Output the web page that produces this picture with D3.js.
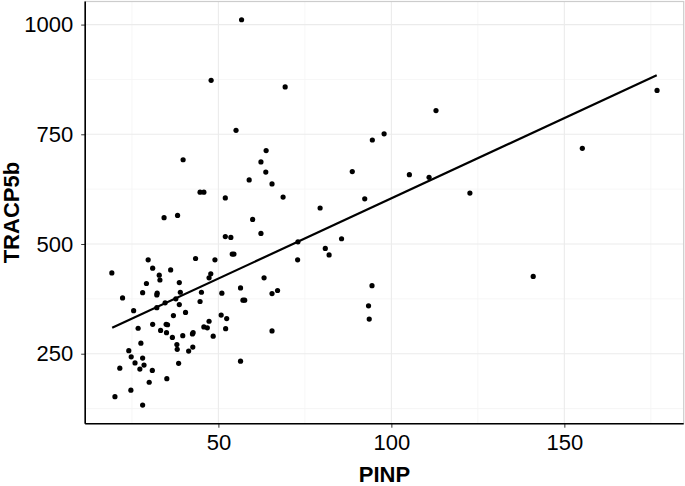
<!DOCTYPE html>
<html>
<head>
<meta charset="utf-8">
<script src="https://cdnjs.cloudflare.com/ajax/libs/d3/7.8.5/d3.min.js"></script>
<style>
    body { margin: 0; background: #fff; }
    svg { display: block; font-family: "Liberation Sans", Arial, sans-serif; }
</style>
</head>
<body>
<div id="chart"></div>
<script>
// PINP values (x)
var pinp = [44.7, 45.8, 52.0, 34.3, 38.2, 52.0, 53.6, 54.0, 54.5,
    19.2, 29.7, 31.0, 32.9, 33.1, 36.2, 29.2, 28.1, 32.3, 32.2, 22.3, 38.7, 39.0, 37.7, 34.6, 32.2, 25.5, 38.7,
    43.4, 49.0, 47.8, 47.3, 45.1, 51.0, 44.7,
    37.0, 40.5, 26.8, 31.0, 33.3, 34.9, 35.3, 35.0, 36.7, 39.7, 42.5, 42.7, 45.8, 46.8, 47.3, 48.5, 50.8, 52.4, 52.1,
    38.0, 38.1, 41.4, 42.6, 38.5, 35.1, 27.6, 24.1, 24.8, 25.9, 28.1, 28.5, 27.3, 30.9, 21.5, 30.0, 24.7, 20.1, 28.1,
    47.9, 55.1, 39.8, 56.7, 69.3, 63.8, 62.3, 63.7, 65.5, 58.9, 68.7, 59.9, 62.3, 73.0, 80.9, 85.6, 79.4, 88.7,
    92.3, 94.5, 97.9, 105.2, 110.9, 112.9,
    82.0, 72.9, 56.4, 57.1, 57.6, 63.2, 65.5, 67.1, 65.5, 56.4, 94.4, 93.4, 93.6,
    122.7, 155.2, 176.8, 141.0];

// TRACP5b values (y)
var tracp = [618, 618, 605, 560, 565, 517, 515, 477, 477,
    434, 464, 445, 429, 418, 441, 410, 389, 388, 384, 377, 412, 390, 375, 366, 355, 348, 362,
    467, 464, 432, 423, 390, 388, 369,
    337, 344, 308, 317, 303, 317, 316, 298, 287, 291, 295, 298, 311, 309, 324, 290, 338, 330, 307,
    271, 260, 256, 265, 228, 193, 274, 257, 243, 229, 240, 224, 215, 212, 217, 185, 167, 152, 133,
    873, 759, 692, 1011, 858, 713, 687, 664, 637, 646, 607, 556, 524, 505, 490, 512, 582, 665,
    603, 737, 751, 658, 652, 804,
    475, 464, 400, 372, 372, 423, 387, 394, 302, 233, 405, 359, 329,
    616, 718, 850, 426];

// fitted line end points
var fitX = [19.3, 176.7];
var fitY = [309, 884.5];

var xTicks = [50, 100, 150];
var xMinor = [25, 75, 125, 175];
var yTicks = [250, 500, 750, 1000];
var yMinor = [125, 375, 625, 875];

var width = 685;
var height = 486;
var margin = {
    top: 1.5,
    right: 1.3,
    bottom: 62.3,
    left: 85.2
};
var w = width - margin.left - margin.right;
var h = height - margin.top - margin.bottom;

var svg = d3.select('#chart').append('svg').attr('width', width).attr('height', height)
    .append('g').attr('transform', 'translate(' + margin.left + ',' + margin.top + ')');

var x = d3.scaleLinear().domain([11.5, 184.5]).range([0, w]);
var y = d3.scaleLinear().domain([90.5, 1052.6]).range([h, 0]);

// grid
svg.selectAll('.xminor').data(xMinor).enter().append('line')
    .attr('x1', function(d) { return x(d); }).attr('x2', function(d) { return x(d); })
    .attr('y1', 0).attr('y2', h).attr('stroke', '#f4f4f4').attr('stroke-width', 0.8);
svg.selectAll('.yminor').data(yMinor).enter().append('line')
    .attr('y1', function(d) { return y(d); }).attr('y2', function(d) { return y(d); })
    .attr('x1', 0).attr('x2', w).attr('stroke', '#f4f4f4').attr('stroke-width', 0.8);
svg.selectAll('.xmajor').data(xTicks).enter().append('line')
    .attr('x1', function(d) { return x(d); }).attr('x2', function(d) { return x(d); })
    .attr('y1', 0).attr('y2', h).attr('stroke', '#ebebeb').attr('stroke-width', 1.1);
svg.selectAll('.ymajor').data(yTicks).enter().append('line')
    .attr('y1', function(d) { return y(d); }).attr('y2', function(d) { return y(d); })
    .attr('x1', 0).attr('x2', w).attr('stroke', '#ebebeb').attr('stroke-width', 1.1);

// panel border
svg.append('rect').attr('x', 0).attr('y', 0).attr('width', w).attr('height', h)
    .attr('fill', 'none').attr('stroke', '#cccccc').attr('stroke-width', 1.2);

// points
var points = pinp.map(function(d, i) { return {x: d, y: tracp[i]}; });
svg.selectAll('.point').data(points).enter().append('circle').attr('class', 'point')
    .attr('cx', function(d) { return x(d.x); })
    .attr('cy', function(d) { return y(d.y); })
    .attr('r', 2.6).attr('fill', '#000');

// fitted line
svg.append('line')
    .attr('x1', x(fitX[0])).attr('y1', y(fitY[0]))
    .attr('x2', x(fitX[1])).attr('y2', y(fitY[1]))
    .attr('stroke', '#000').attr('stroke-width', 2.2);

// axes
var xAxis = svg.append('g').attr('transform', 'translate(0,' + h + ')')
    .call(d3.axisBottom(x).tickValues(xTicks).tickSize(4).tickPadding(7).tickFormat(d3.format('d')));
var yAxis = svg.append('g')
    .call(d3.axisLeft(y).tickValues(yTicks).tickSize(4).tickPadding(8).tickFormat(d3.format('d')));
[xAxis, yAxis].forEach(function(a) {
    a.select('.domain').remove();
    a.selectAll('line').attr('stroke', '#333').attr('stroke-width', 1);
    a.selectAll('text').attr('fill', '#000').style('font-size', '22px');
});

svg.append('line').attr('x1', 0).attr('x2', w).attr('y1', h).attr('y2', h)
    .attr('stroke', '#000').attr('stroke-width', 1.6);
svg.append('line').attr('x1', 0).attr('x2', 0).attr('y1', 0).attr('y2', h)
    .attr('stroke', '#000').attr('stroke-width', 1.6);

// titles
svg.append('text').attr('x', w / 2).attr('y', h + 58)
    .attr('text-anchor', 'middle').style('font-size', '22px').style('font-weight', 'bold')
    .text('PINP');
svg.append('text').attr('transform', 'translate(' + (19 - margin.left) + ',' + (h / 2) + ') rotate(-90)')
    .attr('text-anchor', 'middle').style('font-size', '22px').style('font-weight', 'bold')
    .text('TRACP5b');
</script>
</body>
</html>
